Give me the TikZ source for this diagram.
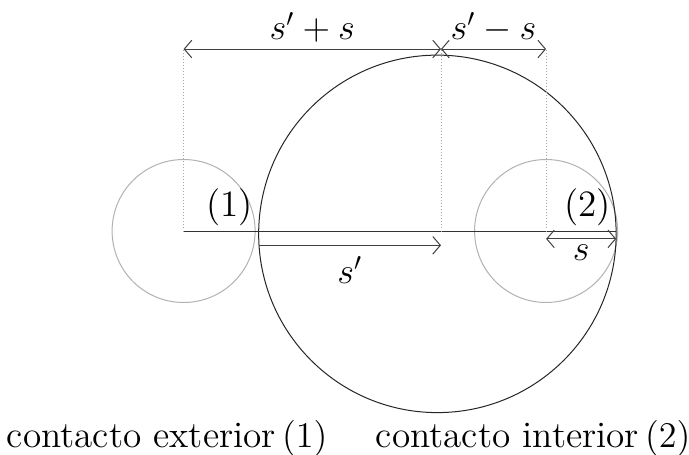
\documentclass[tikz,border=0pt]{standalone}
\usepackage{tikz}
\usetikzlibrary{arrows.meta, positioning}

\begin{document}
\begin{tikzpicture}[font=\fontsize{14.8}{18}\selectfont, >={Straight Barb[length=3pt,width=7pt]}]
    \useasboundingbox (-6.168,-3.119) rectangle (3.469,3.231);
    \tikzset{guide/.style={densely dotted, gray!70, very thin},
             dim/.style={<->, black!75, thin}}

    \coordinate (c1) at (-3.6,0);
    \coordinate (o) at (0,0);
    \coordinate (c2) at (1.47,0);
    \coordinate (t1) at (-2.55,0);
    \coordinate (t2) at (2.45,0);
    \coordinate (u1) at (-3.6,2.545);
    \coordinate (u0) at (0,2.545);
    \coordinate (u2) at (1.47,2.545);
    \coordinate (d1) at (-2.55,-0.2);
    \coordinate (d0) at (0,-0.2);
    \coordinate (e2) at (1.47,-0.11);
    \coordinate (e3) at (2.45,-0.11);

    \draw[gray!60] (c1) circle (1);
    \draw[gray!60] (c2) circle (1);
    \draw[black!85] (-0.05,-0.04) circle (2.5);

    \draw[black!80] (c1) -- (t2);
    \draw[guide] (c1) -- (u1);
    \draw[guide] (o) -- (u0);
    \draw[guide] (c2) -- (u2);

    \draw[dim] (u1) -- (u0) node[midway, above=-1pt, text=black] {$s'+s$};
    \draw[dim] (u0) -- (u2) node[midway, above=-1pt, text=black] {$s'-s$};
    \draw[dim, ->] (d1) -- (d0) node[midway, below=1pt, text=black] {$s'$};
    \draw[dim] (e2) -- (e3) node[midway, below=-1pt, text=black] {$s$};

    \node (p1) [above left=0pt and 0pt of t1, inner sep=2pt] {(1)};
    \node (p2) [above left=0pt and 0pt of t2, inner sep=2pt] {(2)};

    \node (ext) at (-3.83,-2.9) {contacto exterior\,$(1)$};
    \node (int) at (1.29,-2.9) {contacto interior\,$(2)$};
\end{tikzpicture}
\end{document}
